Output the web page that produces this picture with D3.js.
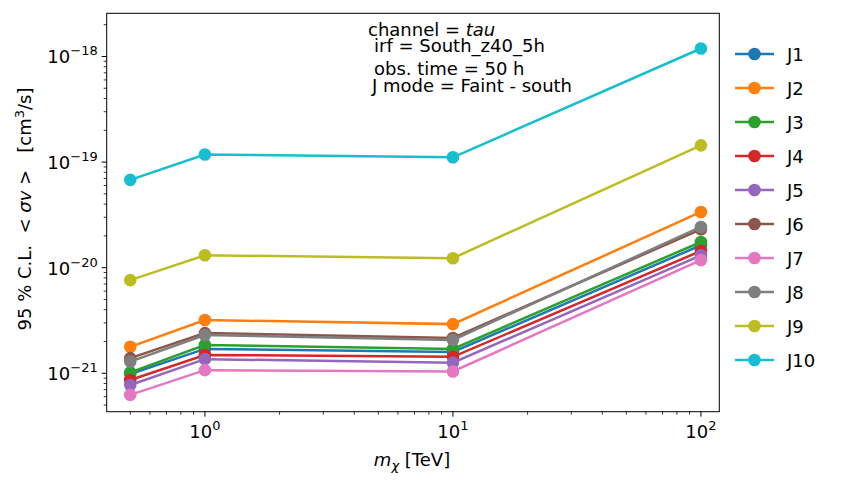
<!DOCTYPE html>
<html>
<head>
<meta charset="utf-8">
<script src="https://cdn.jsdelivr.net/npm/d3@7"></script>
<style>
  body { margin: 0; background: #fff; }
  text { font-family: "DejaVu Sans", sans-serif; }
</style>
</head>
<body>
<script>
// masses in TeV
var masses = [0.5, 1, 10, 100];
var seriesNames = ["J1", "J2", "J3", "J4", "J5", "J6", "J7", "J8", "J9", "J10"];
var colors = ["#1f77b4", "#ff7f0e", "#2ca02c", "#d62728", "#9467bd",
              "#8c564b", "#e377c2", "#7f7f7f", "#bcbd22", "#17becf"];
// 95% CL <sigma v> limits, cm^3/s
var J1 = [9.85e-22, 1.70e-21, 1.59e-21, 1.63e-20];
var J2 = [1.78e-21, 3.19e-21, 2.92e-21, 3.37e-20];
var J3 = [1.02e-21, 1.85e-21, 1.70e-21, 1.75e-20];
var J4 = [8.64e-22, 1.49e-21, 1.43e-21, 1.44e-20];
var J5 = [7.75e-22, 1.36e-21, 1.26e-21, 1.31e-20];
var J6 = [1.39e-21, 2.40e-21, 2.16e-21, 2.31e-20];
var J7 = [6.24e-22, 1.07e-21, 1.04e-21, 1.18e-20];
var J8 = [1.29e-21, 2.30e-21, 2.07e-21, 2.43e-20];
var J9 = [7.62e-21, 1.31e-20, 1.23e-20, 1.44e-19];
var J10 = [6.79e-20, 1.18e-19, 1.11e-19, 1.19e-18];
var allSeries = [J1, J2, J3, J4, J5, J6, J7, J8, J9, J10];

var xMajor = [0, 1, 2];          // exponents
var yMajor = [-21, -20, -19, -18];
var infoLines = ["channel = ", "irf = South_z40_5h", "obs. time = 50 h", "J mode = Faint - south"];

var W = 843, H = 487;
var pL = 106.7, pR = 719.3, pT = 13.3, pB = 411.7;
var fs = 18, fsSup = 13;

var svg = d3.select("body").append("svg")
    .attr("width", W).attr("height", H);

var x = d3.scaleLog().domain([Math.pow(10, -0.396), Math.pow(10, 2.074)]).range([pL, pR]);
var y = d3.scaleLog().domain([Math.pow(10, -21.364), Math.pow(10, -17.591)]).range([pB, pT]);

// ticks
var xMinor = [];
[-1, 0, 1, 2].forEach(function(e){
    for (var k = 2; k <= 9; k++) {
        var v = k * Math.pow(10, e);
        if (v >= x.domain()[0] && v <= x.domain()[1]) xMinor.push(v);
    }
});
var yMinor = [];
[-22, -21, -20, -19, -18].forEach(function(e){
    for (var k = 2; k <= 9; k++) {
        var v = k * Math.pow(10, e);
        if (v >= y.domain()[0] && v <= y.domain()[1]) yMinor.push(v);
    }
});

var axes = svg.append("g").attr("stroke", "#000");
axes.selectAll(".xmaj").data(xMajor).enter().append("line")
    .attr("x1", function(d){ return x(Math.pow(10, d)); })
    .attr("x2", function(d){ return x(Math.pow(10, d)); })
    .attr("y1", pB).attr("y2", pB + 5).attr("stroke-width", 1);
axes.selectAll(".xmin").data(xMinor).enter().append("line")
    .attr("x1", function(d){ return x(d); }).attr("x2", function(d){ return x(d); })
    .attr("y1", pB).attr("y2", pB + 3).attr("stroke-width", 0.8);
axes.selectAll(".ymaj").data(yMajor).enter().append("line")
    .attr("y1", function(d){ return y(Math.pow(10, d)); })
    .attr("y2", function(d){ return y(Math.pow(10, d)); })
    .attr("x1", pL).attr("x2", pL - 5).attr("stroke-width", 1);
axes.selectAll(".ymin").data(yMinor).enter().append("line")
    .attr("y1", function(d){ return y(d); }).attr("y2", function(d){ return y(d); })
    .attr("x1", pL).attr("x2", pL - 3).attr("stroke-width", 0.8);

// tick labels
var xl = svg.selectAll(".xlab").data(xMajor).enter().append("text")
    .attr("x", function(d){ return x(Math.pow(10, d)); })
    .attr("y", pB + 26)
    .attr("text-anchor", "middle").attr("font-size", fs);
xl.append("tspan").text("10");
xl.append("tspan").attr("dy", -8).attr("font-size", fsSup).text(function(d){ return d; });

var yl = svg.selectAll(".ylab").data(yMajor).enter().append("text")
    .attr("x", pL - 9)
    .attr("y", function(d){ return y(Math.pow(10, d)) + 7; })
    .attr("text-anchor", "end").attr("font-size", fs);
yl.append("tspan").text("10");
yl.append("tspan").attr("dy", -8).attr("font-size", fsSup).text(function(d){ return "\u2212" + (-d); });

// axis titles
var xt = svg.append("text").attr("x", 412).attr("y", 466)
    .attr("text-anchor", "middle").attr("font-size", fs);
xt.append("tspan").attr("font-style", "italic").text("m");
xt.append("tspan").attr("font-style", "italic").attr("dy", 4).attr("font-size", fsSup).text("\u03c7");
xt.append("tspan").attr("dy", -4).text(" [TeV]");

var yt = svg.append("text")
    .attr("transform", "translate(31,209) rotate(-90)")
    .attr("text-anchor", "middle").attr("font-size", fs)
    .attr("xml:space", "preserve");
yt.append("tspan").text("95 % C.L.  < ");
yt.append("tspan").attr("font-style", "italic").text("\u03c3v");
yt.append("tspan").text(" >   [cm");
yt.append("tspan").attr("dy", -7).attr("font-size", fsSup).text("3");
yt.append("tspan").attr("dy", 7).text("/s]");

// lines and markers
var line = d3.line()
    .x(function(d, i){ return x(masses[i]); })
    .y(function(d){ return y(d); });

var plot = svg.append("g");
allSeries.forEach(function(s, j){
    var g = plot.append("g");
    g.append("path").datum(s)
        .attr("d", line)
        .attr("fill", "none")
        .attr("stroke", colors[j])
        .attr("stroke-width", 2.5);
    g.selectAll("circle").data(s).enter().append("circle")
        .attr("cx", function(d, i){ return x(masses[i]); })
        .attr("cy", function(d){ return y(d); })
        .attr("r", 6.3)
        .attr("fill", colors[j]);
});

// frame
svg.append("rect")
    .attr("x", pL).attr("y", pT)
    .attr("width", pR - pL).attr("height", pB - pT)
    .attr("fill", "none").attr("stroke", "#000").attr("stroke-width", 1);

// info text
var info = svg.append("g").attr("font-size", fs);
var t0 = info.append("text").attr("x", 368).attr("y", 36);
t0.append("tspan").text(infoLines[0]);
t0.append("tspan").attr("font-style", "italic").text("tau");
info.append("text").attr("x", 374).attr("y", 52).text(infoLines[1]);
info.append("text").attr("x", 374).attr("y", 75).text(infoLines[2]);
info.append("text").attr("x", 372).attr("y", 92).text(infoLines[3]);

// legend
var leg = svg.append("g");
seriesNames.forEach(function(name, j){
    var ly = 54 + j * 34;
    leg.append("line").attr("x1", 735).attr("x2", 774)
        .attr("y1", ly).attr("y2", ly)
        .attr("stroke", colors[j]).attr("stroke-width", 2.5);
    leg.append("circle").attr("cx", 754.5).attr("cy", ly).attr("r", 6.3)
        .attr("fill", colors[j]);
    leg.append("text").attr("x", 787).attr("y", ly + 7)
        .attr("font-size", fs).text(name);
});
</script>
</body>
</html>
